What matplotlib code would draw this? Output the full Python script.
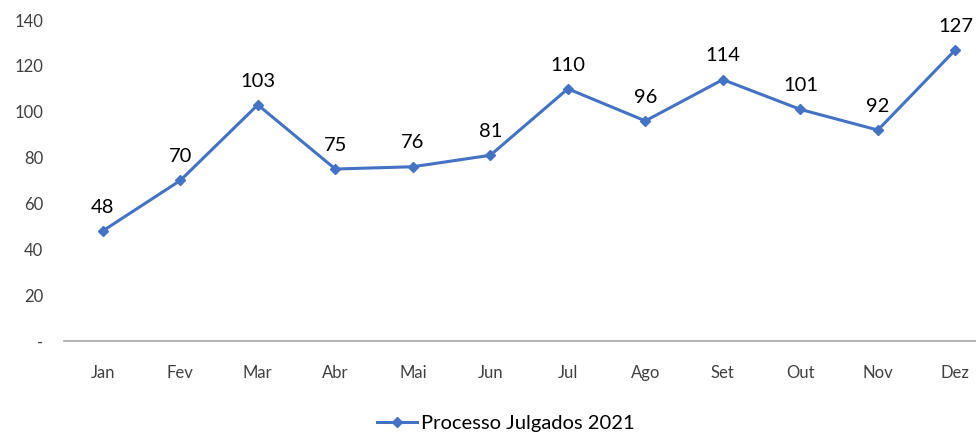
import matplotlib.pyplot as plt
import numpy as np

months = ["Jan", "Fev", "Mar", "Abr", "Mai", "Jun", "Jul", "Ago", "Set", "Out", "Nov", "Dez"]
julgados = [48, 70, 103, 75, 76, 81, 110, 96, 114, 101, 92, 127]
yticks = [0, 20, 40, 60, 80, 100, 120, 140]
ytick_labels = ["-", "20", "40", "60", "80", "100", "120", "140"]

plt.rcParams['font.family'] = ['Lato', 'DejaVu Sans']
blue = "#4472C4"

fig = plt.figure(figsize=(9.76, 4.33), dpi=100)
ax = fig.add_axes([0.0656, 0.2125, 0.953, 0.7413])

x = np.arange(len(months))
ax.plot(x, julgados, color=blue, lw=2.2, marker="D", ms=5.5, label="Processo Julgados 2021")

for xi, yi in zip(x, julgados):
    ax.annotate(str(yi), (xi, yi), xytext=(0, 11), textcoords="offset points",
                ha="center", va="bottom", fontsize=14.5, color="black", annotation_clip=False)

ax.set_xlim(-0.5, 11.5)
ax.set_ylim(0, 140)
ax.set_xticks(x)
ax.set_xticklabels(months)
ax.set_yticks(yticks)
ax.set_yticklabels(ytick_labels)
ax.tick_params(axis="x", length=0, pad=17, labelsize=12, labelcolor="#404040")
ax.tick_params(axis="y", length=0, pad=15, labelsize=12, labelcolor="#404040")

for s in ["top", "right", "left"]:
    ax.spines[s].set_visible(False)
ax.spines["bottom"].set_color("#a6a6a6")
ax.spines["bottom"].set_linewidth(1.2)

fig.legend(loc="center", bbox_to_anchor=(0.518, 0.022), frameon=False, fontsize=14.5,
           handlelength=2.0, handletextpad=0.2)

fig.savefig("out.png", dpi=100)
